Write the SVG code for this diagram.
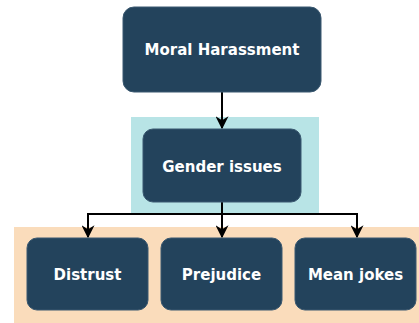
<svg xmlns="http://www.w3.org/2000/svg" width="419" height="323" viewBox="0 0 419 323">
<style>
.node{fill:#23435c;stroke:#3a5870;stroke-width:1}
.lbl{font-family:"DejaVu Sans",Verdana,sans-serif;font-weight:bold;font-size:15px;fill:#ffffff;text-anchor:middle;dominant-baseline:central}
.conn{fill:none;stroke:#000;stroke-width:2}
</style>
<defs>
<marker id="ah" viewBox="0 0 10 10" refX="9" refY="5" markerWidth="6.5" markerHeight="6.5" orient="auto" markerUnits="strokeWidth">
<path d="M0,0 L10,5 L0,10 L3,5 z" fill="#000"/>
</marker>
</defs>
<rect x="131" y="117" width="188" height="96" fill="#b8e4e6"/>
<rect x="14" y="227" width="405" height="96" fill="#fadcbb"/>
<g id="connectors">
<path class="conn" d="M222,92 L222,128" marker-end="url(#ah)"/>
<path class="conn" d="M222,202 L222,214 L88,214 L88,237" marker-end="url(#ah)"/>
<path class="conn" d="M222,214 L222,237" marker-end="url(#ah)"/>
<path class="conn" d="M222,214 L357,214 L357,237" marker-end="url(#ah)"/>
</g>
<g id="n-moral"><rect class="node" x="123" y="7" width="198" height="85" rx="11"/><text class="lbl" x="222" y="50">Moral Harassment</text></g>
<g id="n-gender"><rect class="node" x="143" y="129" width="158" height="73" rx="10"/><text class="lbl" x="222" y="167">Gender issues</text></g>
<g id="n-distrust"><rect class="node" x="27" y="238" width="121" height="72" rx="10"/><text class="lbl" x="87.5" y="275">Distrust</text></g>
<g id="n-prejudice"><rect class="node" x="161" y="238" width="121" height="72" rx="10"/><text class="lbl" x="221.5" y="275">Prejudice</text></g>
<g id="n-mean"><rect class="node" x="295" y="238" width="121" height="72" rx="10"/><text class="lbl" x="355.5" y="275">Mean jokes</text></g>
</svg>
